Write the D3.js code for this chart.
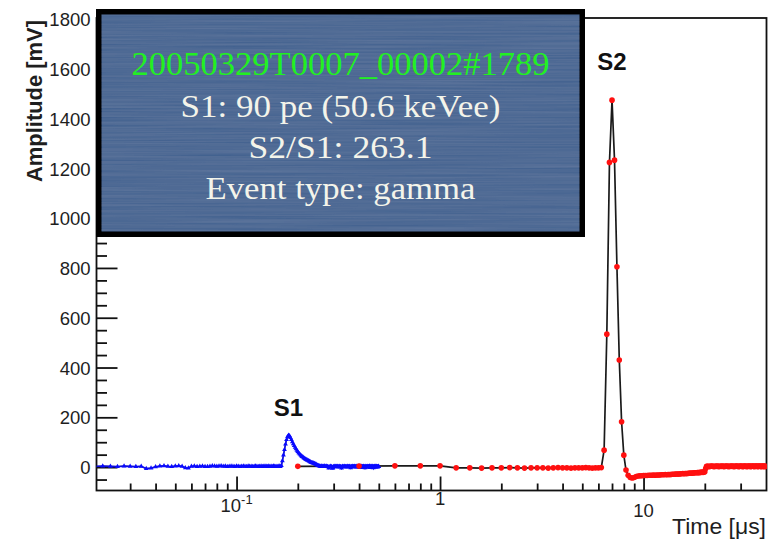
<!DOCTYPE html>
<html>
<head>
<meta charset="utf-8">
<script src="https://cdn.jsdelivr.net/npm/d3@7"></script>
<style>
  html, body { margin: 0; padding: 0; background: #fff; }
  svg { display: block; }
</style>
</head>
<body>
<svg id="chart" width="775" height="539"></svg>
<script>
// ---- waveform data -------------------------------------------------------
// fine-sampled window around S1 (blue), times in µs
const blueStart = 0.020;
const blueStep = 0.002;
const blueValues = [
  3, 4, 3, 2, 4, 3, 2, 3, -6, -4,
  1, 4, 5, 3, 2, 4, 5, 3, -3, -4,
  3, 4, 2, 3, 4, 2, 2, 3, 5, 4,
  3, 4, 5, 3, 4, 2, 3, 4, 3, 2,
  4, 3, 2, 3, 4, 3, 2, 4, 3, 3,
  2, 3, 4, 3, 2, 3, 4, 2, 3, 4,
  3, 2, 4, 3, 3, 2, 4, 3, 2, 3,
  3, 4, 2, 6, 25, 48, 70, 92, 110, 122,
  128, 126, 118, 110, 101, 93, 86, 79, 73, 67,
  62, 57, 53, 49, 45, 42, 40, 37, 34, 32,
  30, 28, 27, 25, 23, 21, 19, 18, 17, 16,
  15, 14, 12, 11, 9, 7, 6, 5, 4, 3,
  2, 4, 3, 2, 3, 4, 3, 2, 3, 3,
  2, 1, -4, 0, 2, 3, 1, 2, -5, -3,
  2, 3, 1, 2, 3, 2, 1, 3, 2, 0,
  2, 3, 1, 2, -4, 1, 3, 2, 1, 2,
  3, 1, 2, 2, 0, 3, 2, 1, 2, 3,
  1, 2, -3, 1, 2, 3, 2, 1, 2, 2,
  3, 1, 2, 0, 2, 3, 1, 2, 3, 1,
  2, 0, 3, 1, -2, 2, 3, 1, 2, 0,
  3, 2, 1, 2, -3, 1, 3, 2, 0, 2,
  1, 3, 2, 0, 2, 4, 1, -2, 2, 3,
  0, 2, 3, 1, 2, -3, 2, 3, 1, 2,
  3, 0, 2, 1, 3, 2, 0, 1, 3, 2,
  2
];

// coarse 0.2 µs samples of the full trace (red), times in µs
const redStart = 0.2;
const redStep = 0.2;
const redValues = [
  3, 4, 5, 5, 5, -3, -3, -4, -3, -3,
  -2, -3, -4, -3, -3, -3, -4, -3, -2, -3,
  -3, -4, -3, -3, -3, -2, -3, -4, -3, -3,
  -2, 68, 534, 1224, 1474, 1233, 805, 430, 182, 48,
  -12, -33, -42, -44, -42, -38, -36, -35, -35, -34,
  -34, -34, -33, -33, -33, -32, -33, -32, -32, -32,
  -31, -31, -31, -30, -31, -30, -30, -30, -29, -29,
  -29, -28, -28, -28, -28, -27, -27, -26, -27, -26,
  -26, -26, -25, -25, -24, -25, -24, -24, -23, -23,
  -23, -22, -22, -22, -21, -21, -20, -21, -20, -19,
  -6, 3, 3, 3, 2, 3, 3, 4, 3, 3,
  2, 3, 3, 3, 4, 3, 2, 3, 3, 3,
  3, 4, 3, 2, 3, 3, 3, 4, 3, 3,
  2, 3, 3, 3, 3, 4, 3, 3, 2, 3,
  3, 3, 4, 3, 3, 3, 2, 3, 3, 4,
  3, 3, 3, 2, 3, 3, 4, 3, 3, 3,
  2, 3, 3, 3, 4, 3, 3, 2, 3, 3,
  3, 4, 3, 3, 2, 3, 3, 3, 4, 3,
  3, 2, 3, 3, 3, 4, 3, 3, 2, 3,
  3, 3, 4, 3, 3, 2, 3, 3, 3, 3
];

// axis ticks and labels
const xMajorTicks = [0.1, 1, 10];
const xMinorTicks = [0.03, 0.04, 0.05, 0.06, 0.07, 0.08, 0.09,
                     0.2, 0.3, 0.4, 0.5, 0.6, 0.7, 0.8, 0.9,
                     2, 3, 4, 5, 6, 7, 8, 9, 20, 30];
const yMajorTicks = [0, 200, 400, 600, 800, 1000, 1200, 1400, 1600, 1800];
const yMinorTicks = [-50, 50, 100, 150, 250, 300, 350, 450, 500, 550, 650, 700, 750,
                     850, 900, 950, 1050, 1100, 1150, 1250, 1300, 1350,
                     1450, 1500, 1550, 1650, 1700, 1750];

// event summary box
const eventId = "20050329T0007_00002#1789";
const infoLines = ["S1: 90 pe (50.6 keVee)", "S2/S1: 263.1", "Event type: gamma"];

// ---- build series ------------------------------------------------------
const blue = blueValues.map((v, i) => ({ t: +(blueStart + i * blueStep).toFixed(4), v }));
const red = redValues.map((v, i) => ({ t: +(redStart + i * redStep).toFixed(4), v }));

// ---- layout -------------------------------------------------------------
const frame = { left: 96.5, right: 766.5, top: 18, bottom: 490.5 };

const svg = d3.select("#chart");
const x = d3.scaleLog().domain([0.0205, 40.2]).range([frame.left, frame.right]);
const y = d3.scaleLinear().domain([-94, 1804]).range([frame.bottom, frame.top]);

const sans = "'Liberation Sans', Arial, Helvetica, sans-serif";
const serif = "'Liberation Serif', 'Times New Roman', Times, serif";

// clip for the data
svg.append("defs").append("clipPath").attr("id", "plotClip")
  .append("rect")
  .attr("x", frame.left).attr("y", frame.top)
  .attr("width", frame.right - frame.left).attr("height", frame.bottom - frame.top);

// ---- axes ---------------------------------------------------------------
const gx = svg.append("g").attr("transform", `translate(0,${frame.bottom})`);
gx.call(d3.axisBottom(x).tickValues(xMajorTicks).tickSize(-14).tickFormat(""));
const gxm = svg.append("g").attr("transform", `translate(0,${frame.bottom})`);
gxm.call(d3.axisBottom(x).tickValues(xMinorTicks).tickSize(-7).tickFormat(""));

const gy = svg.append("g").attr("transform", `translate(${frame.left},0)`);
gy.call(d3.axisLeft(y).tickValues(yMajorTicks).tickSize(-21).tickPadding(6).tickFormat(d3.format("d")));
const gym = svg.append("g").attr("transform", `translate(${frame.left},0)`);
gym.call(d3.axisLeft(y).tickValues(yMinorTicks).tickSize(-10.5).tickFormat(""));

[gx, gxm, gy, gym].forEach(g => {
  g.select(".domain").remove();
  g.selectAll(".tick line").attr("stroke", "#111").attr("stroke-width", 1.8);
});
gy.selectAll(".tick text")
  .attr("font-family", sans).attr("font-size", 18.5).attr("fill", "#1e1e1e")
  .attr("dy", "0.36em");

// frame
svg.append("rect")
  .attr("x", frame.left).attr("y", frame.top)
  .attr("width", frame.right - frame.left).attr("height", frame.bottom - frame.top)
  .attr("fill", "none").attr("stroke", "#111").attr("stroke-width", 1.8);

// x tick labels (ROOT style: 10^-1, 1, 10)
const xl = svg.append("g").attr("font-family", sans).attr("fill", "#1e1e1e");
const lab01 = xl.append("text").attr("x", x(0.1)).attr("y", 512).attr("font-size", 18.5).attr("text-anchor", "middle");
lab01.append("tspan").text("10");
lab01.append("tspan").attr("font-size", 13).attr("dy", -8).text("-1");
xl.append("text").attr("x", x(1)).attr("y", 505).attr("font-size", 18.5).attr("text-anchor", "middle").text("1");
xl.append("text").attr("x", x(10)).attr("y", 517).attr("font-size", 18.5).attr("text-anchor", "middle").text("10");

// axis titles
svg.append("text")
  .attr("x", 766).attr("y", 534)
  .attr("text-anchor", "end")
  .attr("font-family", sans).attr("font-size", 22).attr("fill", "#1e1e1e")
  .attr("textLength", 94).attr("lengthAdjust", "spacingAndGlyphs")
  .text("Time [\u03bcs]");

svg.append("text")
  .attr("transform", "translate(42,182) rotate(-90)")
  .attr("font-family", sans).attr("font-size", 21.5).attr("font-weight", "bold").attr("fill", "#1e1e1e")
  .attr("textLength", 162).attr("lengthAdjust", "spacingAndGlyphs")
  .text("Amplitude [mV]");

// ---- traces -------------------------------------------------------------
const plot = svg.append("g").attr("clip-path", "url(#plotClip)");
const line = d3.line().x(d => x(d.t)).y(d => y(d.v));

plot.append("path").datum(red)
  .attr("d", line).attr("fill", "none").attr("stroke", "#1a1a1a").attr("stroke-width", 1.7);
plot.append("path").datum(blue)
  .attr("d", line).attr("fill", "none").attr("stroke", "#1a1a1a").attr("stroke-width", 1.2);

// blue markers: small triangles
const tri = d3.symbol().type(d3.symbolTriangle).size(10);
plot.append("g").selectAll("path").data(blue).join("path")
  .attr("transform", d => `translate(${x(d.t)},${y(d.v)})`)
  .attr("d", tri).attr("fill", "#0a0aff");
plot.append("path").datum(blue)
  .attr("d", line).attr("fill", "none").attr("stroke", "#0a0aff").attr("stroke-width", 1.6).attr("opacity", 0.85);

// red markers: filled circles
plot.append("g").selectAll("circle").data(red).join("circle")
  .attr("cx", d => x(d.t)).attr("cy", d => y(d.v)).attr("r", 2.8)
  .attr("fill", "#ff1010");

// peak labels
const peakS1 = blue.reduce((a, b) => (b.v > a.v ? b : a));
const peakS2 = red.reduce((a, b) => (b.v > a.v ? b : a));
svg.append("text").attr("x", x(peakS1.t)).attr("y", 416)
  .attr("text-anchor", "middle").attr("font-family", sans).attr("font-weight", "bold")
  .attr("font-size", 24).attr("fill", "#111").text("S1");
svg.append("text").attr("x", x(peakS2.t)).attr("y", 70)
  .attr("text-anchor", "middle").attr("font-family", sans).attr("font-weight", "bold")
  .attr("font-size", 24).attr("fill", "#111").text("S2");

// ---- event summary box ------------------------------------------------------
const defs = svg.select("defs");
const f = defs.append("filter").attr("id", "brushed")
  .attr("x", 0).attr("y", 0).attr("width", 1).attr("height", 1);
f.append("feTurbulence").attr("type", "fractalNoise")
  .attr("baseFrequency", "0.006 0.6").attr("numOctaves", 2).attr("seed", 7).attr("result", "noise");
f.append("feColorMatrix").attr("in", "noise").attr("type", "matrix")
  .attr("values", "1 0 0 0 0  1 0 0 0 0  1 0 0 0 0  0 0 0 0 1").attr("result", "gray");
f.append("feComposite").attr("in", "SourceGraphic").attr("in2", "gray")
  .attr("operator", "arithmetic").attr("k1", 0).attr("k2", 1).attr("k3", 0.07).attr("k4", -0.035);

const box = { x: 96, y: 9, w: 489, h: 228, border: 5.5 };
svg.append("rect")
  .attr("x", box.x).attr("y", box.y).attr("width", box.w).attr("height", box.h)
  .attr("fill", "#000");
svg.append("rect")
  .attr("x", box.x + box.border).attr("y", box.y + box.border)
  .attr("width", box.w - 2 * box.border).attr("height", box.h - 2 * box.border)
  .attr("fill", "#506b95").attr("filter", "url(#brushed)");

const cx = box.x + box.w / 2;
svg.append("text").attr("x", cx).attr("y", 75)
  .attr("text-anchor", "middle").attr("font-family", serif).attr("font-size", 33)
  .attr("fill", "#22f022").attr("textLength", 418).attr("lengthAdjust", "spacingAndGlyphs")
  .text(eventId);
const infoBaselines = [117, 158, 199];
const infoWidths = [320, 184, 270];
infoLines.forEach((s, i) => {
  svg.append("text").attr("x", cx).attr("y", infoBaselines[i])
    .attr("text-anchor", "middle").attr("font-family", serif).attr("font-size", 32)
    .attr("fill", "#f4f4ea").attr("textLength", infoWidths[i]).attr("lengthAdjust", "spacingAndGlyphs")
    .text(s);
});
</script>
</body>
</html>
